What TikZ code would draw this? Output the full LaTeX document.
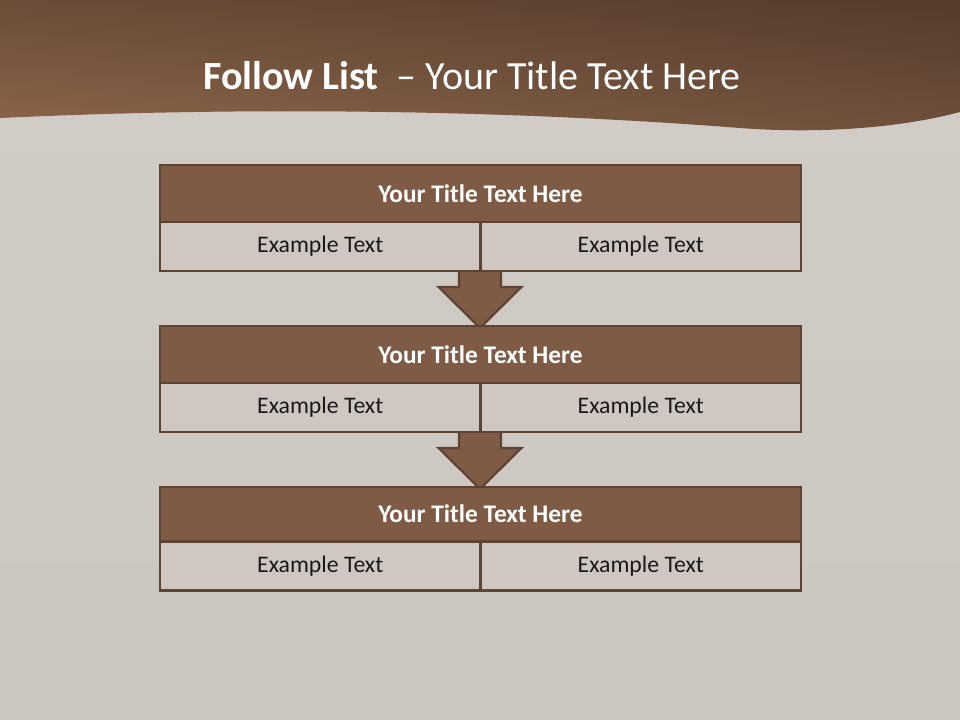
\documentclass[tikz,border=0pt]{standalone}
\usepackage{fontspec}
\setmainfont{Carlito}
\usetikzlibrary{calc,shadings}
\definecolor{bgc}{HTML}{CCC6C1}
\definecolor{bgl}{HTML}{D3CDC8}
\definecolor{brownfill}{HTML}{7F5B45}
\definecolor{brownline}{HTML}{5D4332}
\definecolor{cellfill}{HTML}{D0C7C2}
\definecolor{hdUL}{HTML}{6A4C38}
\definecolor{hdUR}{HTML}{553B2C}
\definecolor{hdLL}{HTML}{8E664A}
\definecolor{hdLR}{HTML}{6E503C}
\tikzset{
  titlebox/.style={draw=brownline, fill=brownfill, line width=2.2pt,
    minimum width=480.75pt, minimum height=42.75pt, inner sep=0pt,
    text=white, font=\fontsize{19}{22}\selectfont\bfseries},
  cellbox/.style={draw=brownline, fill=cellfill, line width=2.2pt,
    minimum width=240.4pt, minimum height=36.75pt, inner sep=0pt,
    text=black!90, font=\fontsize{17.8}{21}\selectfont},
  flowarrow/.style={draw=brownline, fill=brownfill, line width=1.6pt, line join=miter},
  titletext/.style={text=white, font=\fontsize{30}{34}\selectfont, inner sep=0pt}
}
\begin{document}
\begin{tikzpicture}[x=0.75pt,y=-0.75pt]
\useasboundingbox (0,0) rectangle (960,720);
% background
\shade[top color=bgl, bottom color=bgc] (0,0) rectangle (960,720);
% header band
\shade[upper left=hdUL, upper right=hdUR, lower left=hdLL, lower right=hdLR]
  (0,0) -- (960,0) -- (960,112)
  .. controls (900,128) and (820,134) .. (740,128)
  .. controls (560,114) and (300,104) .. (0,118) -- cycle;
\node[titletext, anchor=base] (title) at (472,90) {\textbf{Follow List}\ \ – Your Title Text Here};

% arrows (drawn beneath the boxes)
\coordinate (a1top) at (480,269);
\coordinate (a2top) at (480,430);
\coordinate (a1tip) at (480,328);
\coordinate (a2tip) at (480,489);
\draw[flowarrow] ($(a1top)+(-21,0)$) -- ($(a1top)+(-21,18)$) -- ($(a1top)+(-41.5,18)$)
  -- (a1tip) -- ($(a1top)+(41.5,18)$) -- ($(a1top)+(21,18)$) -- ($(a1top)+(21,0)$) -- cycle;
\draw[flowarrow] ($(a2top)+(-21,0)$) -- ($(a2top)+(-21,18)$) -- ($(a2top)+(-41.5,18)$)
  -- (a2tip) -- ($(a2top)+(41.5,18)$) -- ($(a2top)+(21,18)$) -- ($(a2top)+(21,0)$) -- cycle;

% block 1
\node[titlebox] (t1) at (480.5,193.5) {Your Title Text Here};
\node[cellbox] (c1l) at (320.25,246.5) {Example Text};
\node[cellbox] (c1r) at (640.75,246.5) {Example Text};
% block 2
\node[titlebox] (t2) at (480.5,354.5) {Your Title Text Here};
\node[cellbox] (c2l) at (320.25,407.5) {Example Text};
\node[cellbox] (c2r) at (640.75,407.5) {Example Text};
% block 3
\node[titlebox, minimum height=40.5pt] (t3) at (480.5,514) {Your Title Text Here};
\node[cellbox] (c3l) at (320.25,566) {Example Text};
\node[cellbox] (c3r) at (640.75,566) {Example Text};
\end{tikzpicture}
\end{document}
